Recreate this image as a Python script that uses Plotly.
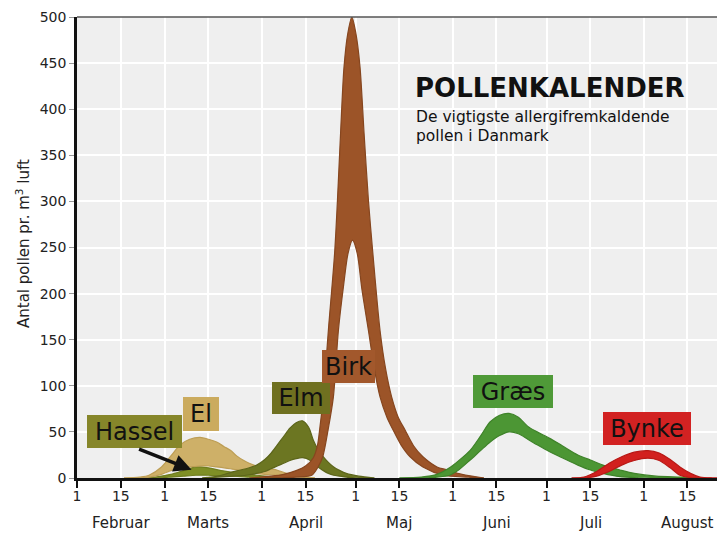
import plotly.graph_objects as go

# ---------------- data (x = days after 1 February) ----------------
hassel_days = [20, 25, 30, 34, 38, 42, 46, 50, 55, 60, 65]
hassel_low = [0, 0, 1, 2, 3, 3, 2, 2, 1, 0, 0]
hassel_high = [0, 1, 4, 8, 12, 11, 8, 6, 4, 2, 0]

el_days = [15, 20, 23, 27, 30, 33, 36, 39.3, 42, 44.6, 47, 49, 51, 53, 55, 57.4, 60, 63.8, 67, 71, 76]
el_low = [0, 0, 1, 4, 8, 11, 12, 13, 13, 12, 11, 10, 9, 7, 6, 5, 4, 3, 2, 1, 0]
el_high = [0, 1, 3, 12, 24, 36, 42, 44, 42, 39, 34, 30, 24, 19.5, 16, 13, 11, 8.7, 5, 2, 0]

elm_days = [40, 45, 50, 54, 57.4, 60, 62, 64, 66, 68, 70, 72, 74, 75.5, 77, 78.7, 80.3, 82, 84, 86, 90, 95]
elm_low = [0, 1, 2, 3, 5, 7, 10, 13, 16, 19, 21, 22, 20, 16, 12, 8, 5, 3, 2, 1, 0, 0]
elm_high = [0, 2, 7, 10, 14, 20, 27, 36, 45, 54, 60, 62, 55, 41, 31, 23, 17, 12, 8, 5, 2, 0]

birk_low_days = [60, 70, 75, 77, 78.5, 80.2, 81.9, 83.5, 85.2, 86.6, 88, 89.5, 91, 93.1, 95, 96.8,
                 99, 101, 103.5, 106.4, 110.5, 117, 125, 130]
birk_low = [0, 1, 3, 12, 23, 52, 88, 160, 210, 244, 258, 244, 205, 160, 118, 88,
            66, 52, 36, 23, 12, 3, 1, 0]
birk_high_days = [55, 62, 66, 70, 73, 75.5, 76.8, 77.6, 78.7, 80.3, 82.3, 83.2, 84.2, 85.3, 86.5, 87.8,
                  89.1, 90.4, 91.7, 93.1, 94.5, 96.8, 98.6, 100.5, 102.6, 104.8, 107.5, 110.5, 115, 118, 123, 130]
birk_high = [0, 2, 4, 8, 13, 22, 35, 55, 88, 160, 244, 301, 374, 446, 482, 500,
             482, 446, 374, 301, 244, 160, 118, 88, 66, 52, 35, 23, 12, 9, 4, 0]

graes_days = [103, 110, 115, 119, 122, 125.6, 129, 132, 135, 138, 141, 144, 147, 151, 155, 160,
              164, 168, 173.5, 178, 185, 193, 200]
graes_low = [0, 0, 1, 3, 9, 19.5, 30, 39, 46, 50, 48, 42, 36, 28.5, 22, 14,
             8.7, 5, 1.4, 0.5, 0, 0, 0]
graes_high = [0, 1, 4, 11, 19, 30, 46, 61, 68, 70, 66, 56, 50, 43, 35, 25,
              19.5, 14, 8.7, 5, 2, 1, 0]

bynke_days = [158, 162, 166, 170, 174, 178, 182.4, 186, 189.5, 192.6, 196, 199, 203, 207]
bynke_low = [0, 0, 2, 7, 14, 19, 21.5, 19, 11, 3, 0.5, 0, 0, 0]
bynke_high = [0, 1, 7, 16, 23, 28, 29.6, 27, 20, 12, 5, 1, 0, 0]

tick_vals = [0, 14, 28, 42, 59, 73, 89, 103, 120, 134, 150, 164, 181, 195]
tick_text = ["1", "15", "1", "15", "1", "15", "1", "15", "1", "15", "1", "15", "1", "15"]
month_pos = [14, 42, 73, 103, 134, 164, 195]
month_names = ["Februar", "Marts", "April", "Maj", "Juni", "Juli", "August"]

species = [
    ("Hassel", hassel_days, hassel_low, hassel_days, hassel_high, "#7f8f26", "#6f7d1f"),
    ("El", el_days, el_low, el_days, el_high, "#ceb068", "#bd9e55"),
    ("Elm", elm_days, elm_low, elm_days, elm_high, "#6c7622", "#5c651b"),
    ("Birk", birk_low_days, birk_low, birk_high_days, birk_high, "#9c5428", "#86461f"),
    ("Græs", graes_days, graes_low, graes_days, graes_high, "#4c9634", "#3f832a"),
    ("Bynke", bynke_days, bynke_low, bynke_days, bynke_high, "#d2201e", "#b81916"),
]

# ---------------- figure ----------------
OFF = 8  # the page body adds an 8px margin; positions below are in window pixels
W, H = 725 - OFF, 535 - OFF
PLOT_L, PLOT_R, PLOT_T, PLOT_B = 77, 725, 17, 478   # plot area in window pixels
L, T = PLOT_L - OFF, PLOT_T - OFF
R = W - (PLOT_R - OFF)
B = H - (PLOT_B - OFF)
PW, PH = PLOT_R - PLOT_L, PLOT_B - PLOT_T


def paper(px, py):
    return (px - PLOT_L) / PW, (PLOT_B - py) / PH


fig = go.Figure()
for name, xl, yl, xh, yh, fill, edge in species:
    fig.add_trace(go.Scatter(x=xl, y=yl, mode="lines", line=dict(color=edge, width=1.2, shape="spline", smoothing=0.8),
                             hoverinfo="skip", showlegend=False))
    fig.add_trace(go.Scatter(x=xh, y=yh, mode="lines", fill="tonexty", fillcolor=fill,
                             line=dict(color=edge, width=1.2, shape="spline", smoothing=0.8),
                             name=name, showlegend=False))

font_family = "DejaVu Sans, Arial, sans-serif"

fig.update_layout(
    width=W, height=H,
    margin=dict(l=L, r=R, t=T, b=B, autoexpand=False),
    paper_bgcolor="white",
    plot_bgcolor="#efefef",
    font=dict(family=font_family, color="#222222", size=14),
    xaxis=dict(range=[0, 207], tickmode="array", tickvals=tick_vals, ticktext=tick_text,
               showgrid=True, gridcolor="white", gridwidth=2,
               showline=True, linecolor="#111111", linewidth=2.5,
               ticks="outside", ticklen=7, tickwidth=2, tickcolor="#111111",
               ticklabelstandoff=-4,
               tickfont=dict(size=14, color="#222222"), zeroline=False),
    yaxis=dict(range=[0, 500], tickvals=list(range(0, 501, 50)),
               showgrid=True, gridcolor="white", gridwidth=2,
               showline=True, linecolor="#111111", linewidth=2.5,
               ticks="outside", ticklen=5, tickwidth=1, tickcolor="#999999",
               tickfont=dict(size=14, color="#222222"), zeroline=False),
)

# top border
fig.add_shape(type="line", xref="paper", yref="paper", x0=0, x1=1, y0=1, y1=1,
              line=dict(color="#555555", width=1.5))

ann = []
# month names
for pos, nm in zip(month_pos, month_names):
    _, py = paper(0, 523)
    ann.append(dict(x=pos, xref="x", y=py, yref="paper", text=nm, showarrow=False,
                    xanchor="center", yanchor="middle", font=dict(size=15, color="#222222")))

# y-axis title
xp, yp = paper(23, 244)
ann.append(dict(x=xp, y=yp, xref="paper", yref="paper", text="Antal pollen pr. m<sup>3</sup> luft",
                textangle=-90, showarrow=False, xanchor="center", yanchor="middle",
                font=dict(size=15, color="#222222")))

# title
xp, yp = paper(413, 88)
ann.append(dict(x=xp, y=yp, xref="paper", yref="paper", text="<b>POLLENKALENDER</b>", showarrow=False,
                xanchor="left", yanchor="middle", font=dict(size=26, color="#111111")))
xp, yp = paper(414, 117)
ann.append(dict(x=xp, y=yp, xref="paper", yref="paper", text="De vigtigste allergifremkaldende",
                showarrow=False, xanchor="left", yanchor="middle", font=dict(size=15.5, color="#111111")))
xp, yp = paper(414, 136)
ann.append(dict(x=xp, y=yp, xref="paper", yref="paper", text="pollen i Danmark",
                showarrow=False, xanchor="left", yanchor="middle", font=dict(size=15.5, color="#111111")))

# label boxes
boxes = [
    ("Hassel", 134.5, 431.5, 95, 33, "#86862a"),
    ("El", 201, 414, 36, 34, "#cbab5e"),
    ("Elm", 301, 398, 58, 32, "#6f7020"),
    ("Birk", 348.5, 366.5, 53, 33, "#a2582c"),
    ("Græs", 513, 391.5, 80, 33, "#4f9a38"),
    ("Bynke", 647, 428.5, 88, 33, "#d22222"),
]
for txt, cx, cy, bw, bh, col in boxes:
    xp, yp = paper(cx, cy)
    ann.append(dict(x=xp, y=yp, xref="paper", yref="paper", text=txt, showarrow=False,
                    xanchor="center", yanchor="middle", width=bw, height=bh, bgcolor=col,
                    borderpad=0, borderwidth=0, align="center", valign="middle",
                    font=dict(size=24, color="#111111")))

# arrow pointing at Hassel curve
ann.append(dict(x=36.6, y=9, xref="x", yref="y", ax=-56, ay=-22, axref="pixel", ayref="pixel",
                text=" ", showarrow=True, arrowhead=2, arrowsize=1, arrowwidth=3.5, arrowcolor="#111111"))

fig.update_layout(annotations=ann)
fig.write_html("out.html")
